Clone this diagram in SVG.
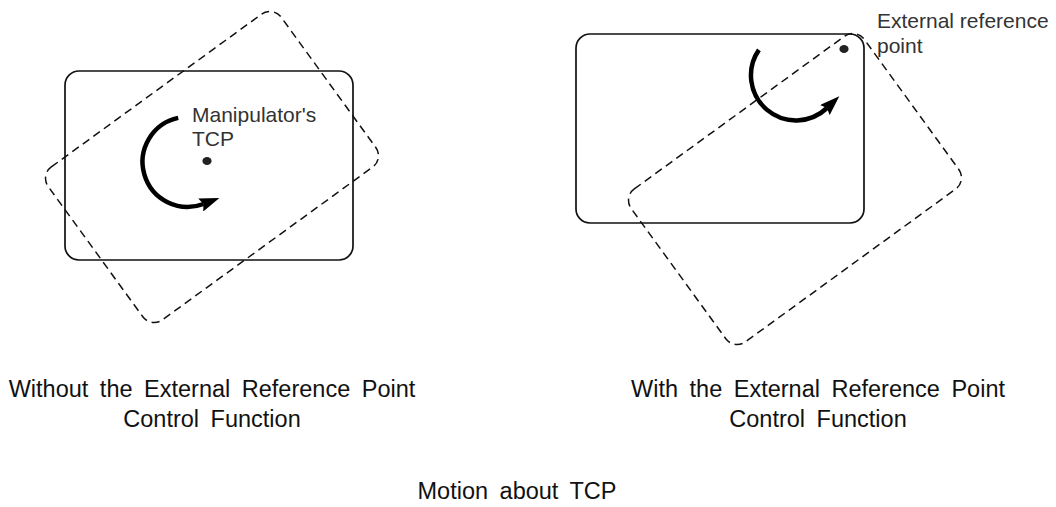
<svg xmlns="http://www.w3.org/2000/svg" width="1056" height="507" viewBox="0 0 1056 507">
  <defs>
    <style>
      .frame { fill: none; stroke: #111; stroke-width: 1.7; }
      .moved { fill: none; stroke: #111; stroke-width: 1.5; stroke-dasharray: 8 5; }
      .turn { fill: none; stroke: #000; stroke-width: 4.5; marker-end: url(#head); }
      .pt { fill: #222; }
      .note { font-family: "Liberation Sans", Arial, sans-serif; font-size: 21px; fill: #333; }
      .caption { font-family: "Liberation Sans", Arial, sans-serif; font-size: 23.5px; fill: #111; word-spacing: 5px; text-anchor: middle; }
    </style>
    <marker id="head" markerUnits="userSpaceOnUse" viewBox="0 0 20 14" refX="3" refY="7" markerWidth="20" markerHeight="14" orient="auto">
      <path d="M0,0 L20,7 L0,14 L3,7 Z" fill="#000"/>
    </marker>
  </defs>

  <rect width="1056" height="507" fill="#fff"/>

  <!-- rotation about the tool centre point -->
  <g id="tcp-rotation">
    <rect class="frame" x="65" y="71" width="288" height="189" rx="14"/>
    <rect class="moved" x="-144" y="-94.5" width="288" height="189" rx="14" transform="translate(212 167) rotate(-36)"/>
    <path class="turn" d="M178.2,117.9 A45,45 0 1,0 203.5,204"/>
    <ellipse class="pt" cx="207" cy="161" rx="4.6" ry="4"/>
    <text class="note" x="192" y="122">Manipulator's</text>
    <text class="note" x="192" y="146">TCP</text>
  </g>

  <!-- rotation about the external reference point -->
  <g id="external-rotation">
    <rect class="frame" x="576" y="34" width="288" height="189" rx="14"/>
    <rect class="moved" x="-144" y="-94.5" width="288" height="189" rx="14" transform="translate(795 189) rotate(-36)"/>
    <path class="turn" d="M758.9,49.9 A45,45 0 0,0 827,108"/>
    <ellipse class="pt" cx="844" cy="49" rx="4.6" ry="4"/>
    <text class="note" x="877" y="28">External reference</text>
    <text class="note" x="877" y="53">point</text>
  </g>

  <g id="captions">
    <text class="caption" x="212" y="397">Without the External Reference Point</text>
    <text class="caption" x="212" y="427">Control Function</text>
    <text class="caption" x="818" y="397">With the External Reference Point</text>
    <text class="caption" x="818" y="427">Control Function</text>
    <text class="caption" x="517" y="499">Motion about TCP</text>
  </g>
</svg>
